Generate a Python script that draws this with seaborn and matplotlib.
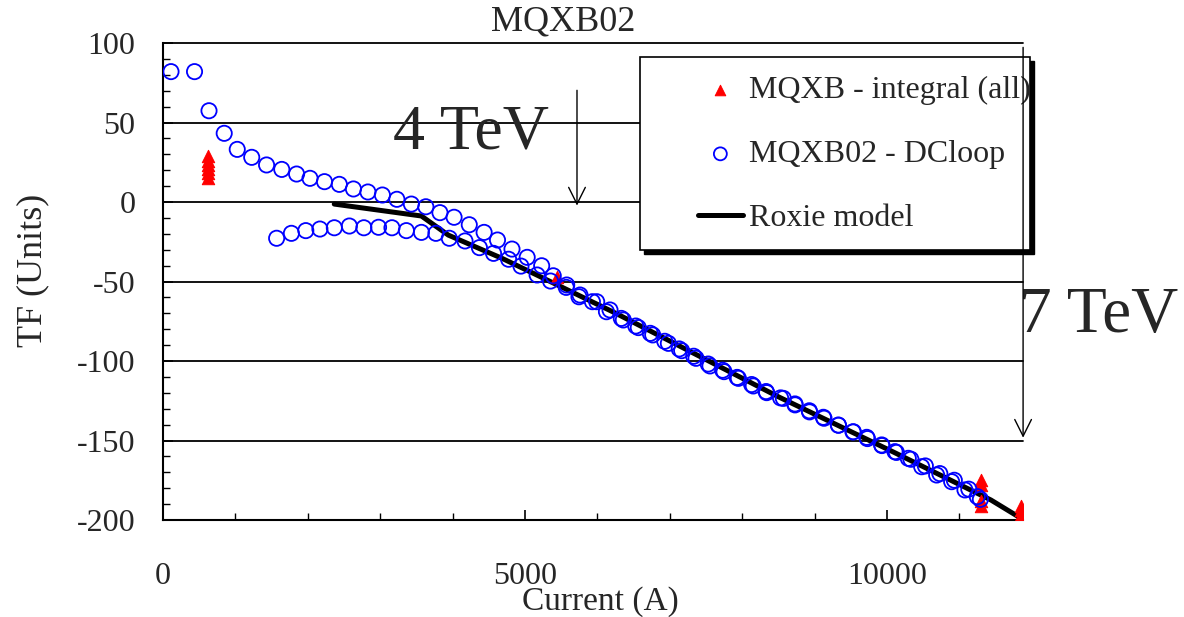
import matplotlib
matplotlib.use("Agg")
import matplotlib.pyplot as plt
import matplotlib.patches as mpatches
import seaborn as sns
import pandas as pd
from matplotlib.ticker import MultipleLocator

# DC loop, ramp up (upper branch)
up_current = [110, 435, 635, 845, 1025, 1225, 1430, 1640, 1845, 2030,
              2230, 2435, 2630, 2830, 3030, 3230, 3430, 3630, 3825, 4020,
              4230, 4435, 4620, 4820, 5030, 5230, 5390, 5576, 5760, 5990,
              6174, 6358, 6565, 6764, 6980, 7164, 7362, 7555, 7749, 7947,
              8153, 8338, 8568, 8729, 8927, 9121, 9328, 9535, 9720, 9927,
              10110, 10294, 10479, 10686, 10893, 11077, 11247]
up_tf = [82, 82, 57.4, 43.2, 33.1, 28.1, 23.3, 20.5, 17.6, 14.9,
         12.8, 11.1, 8.2, 6.3, 4.4, 1.7, -1.3, -3.0, -6.7, -9.6,
         -14.3, -19.1, -23.9, -29.6, -34.8, -40.1, -46.4, -52.2, -58.5, -62.7,
         -67.9, -74.2, -79.0, -83.6, -88.9, -93.5, -98.3, -103.1, -106.7, -110.9,
         -115.7, -119.9, -123.5, -127.0, -131.3, -135.4, -140.3, -144.5, -148.0, -152.8,
         -157.0, -161.2, -166.5, -171.7, -175.9, -181.1, -185.3]

# DC loop, ramp down (lower branch)
down_current = [11290, 11130, 10930, 10730, 10530, 10330, 10130, 9930, 9730, 9530,
                9330, 9130, 8930, 8730, 8530, 8330, 8130, 7930, 7730, 7530,
                7330, 7130, 6930, 6730, 6530, 6330, 6125, 5931, 5745, 5569,
                5352, 5167, 4944, 4773, 4565, 4370, 4171, 3954, 3769, 3569,
                3361, 3162, 2977, 2774, 2574, 2366, 2167, 1972, 1773, 1569]
down_tf = [-187.0, -180.6, -175.0, -170.8, -166.0, -161.8, -157.5, -153.2, -148.8, -144.6,
           -140.4, -136.0, -132.0, -127.6, -123.2, -119.2, -114.8, -110.3, -105.8, -101.9,
           -97.0, -92.4, -87.6, -82.6, -78.0, -73.2, -69.0, -62.7, -59.6, -53.7,
           -49.7, -45.9, -40.3, -36.0, -32.3, -28.7, -24.5, -22.8, -19.7, -19.1,
           -18.0, -16.2, -15.9, -16.2, -15.1, -16.2, -17.0, -18.0, -19.7, -22.8]

# integral measurements, all MQXB magnets
integral_current = [620, 620, 620, 620, 620, 620, 5440,
                    11300, 11300, 11300, 11300, 11850, 11850, 11850]
integral_tf = [29, 26, 23, 21, 18, 15, -47,
               -175, -178, -188, -191, -191, -194, -197]

# Roxie model
roxie_current = [2365, 3569, 3940, 4310, 4681, 5144, 6255, 8500, 10100, 11435, 11854]
roxie_tf = [-1.3, -8.8, -20.8, -28.1, -35.4, -45.5, -70.0, -122.5, -157.5, -187.4, -199.0]

dc = pd.DataFrame({"current": up_current + down_current, "tf": up_tf + down_tf})
integral = pd.DataFrame({"current": integral_current, "tf": integral_tf})
roxie = pd.DataFrame({"current": roxie_current, "tf": roxie_tf})

sns.set_theme(style="white")
plt.rcParams["font.family"] = ["Liberation Serif", "DejaVu Sans"]
plt.rcParams["axes.unicode_minus"] = False

fig = plt.figure(figsize=(11.84, 6.17), dpi=100)
ax = fig.add_axes([0.1377, 0.1572, 0.7264, 0.7731])

sns.lineplot(data=roxie, x="current", y="tf", color="black", linewidth=3.6,
             estimator=None, sort=False, label="Roxie model", ax=ax, zorder=3)
sns.scatterplot(data=integral, x="current", y="tf", marker="^", color="#ff0000",
                edgecolor="#ff0000", s=80, label="MQXB - integral (all)", ax=ax, zorder=4)
sns.scatterplot(data=dc, x="current", y="tf", marker="o", facecolor="none",
                edgecolor="#0000ff", linewidth=1.3, s=120,
                label="MQXB02 - DCloop", ax=ax, zorder=5)

ax.set_xlim(0, 11880)
ax.set_ylim(-200, 100)
ax.xaxis.set_major_locator(MultipleLocator(5000))
ax.xaxis.set_minor_locator(MultipleLocator(1000))
ax.yaxis.set_major_locator(MultipleLocator(50))
ax.yaxis.set_minor_locator(MultipleLocator(10))

for gy in [100, 50, 0, -50, -100, -150]:
    ax.axhline(gy, color="black", linewidth=1.3, zorder=1, clip_on=False)

for side in ["top", "right"]:
    ax.spines[side].set_visible(False)
for side in ["left", "bottom"]:
    ax.spines[side].set_color("black")
    ax.spines[side].set_linewidth(1.5)

ax.tick_params(axis="both", which="both", direction="in", color="black",
               left=True, bottom=True)
ax.tick_params(axis="both", which="major", length=7, width=1.2)
ax.tick_params(axis="both", which="minor", length=5, width=1.0)
ax.tick_params(axis="x", which="major", labelsize=23, pad=30)
ax.tick_params(axis="y", which="major", labelsize=23, pad=20)

ax.set_xlabel("Current (A)", fontsize=24, va="center")
ax.set_ylabel("TF (Units)", fontsize=26)
ax.xaxis.set_label_coords(0.509, -0.172)
ax.yaxis.set_label_coords(-0.132, 0.524)

fig.text(0.4755, 0.964, "MQXB02", fontsize=26, ha="center", va="center")

# energy markers
ax.annotate("", xy=(5718, -4), xytext=(5718, 72),
            arrowprops=dict(arrowstyle="->", color="black", lw=1.0, mutation_scale=30))
ax.text(4250, 43, "4 TeV", fontsize=46, ha="center", va="center")
ax.annotate("", xy=(11880, -150), xytext=(11880, 99),
            arrowprops=dict(arrowstyle="->", color="black", lw=1.0, mutation_scale=30),
            annotation_clip=False, zorder=10)
ax.text(12930, -72, "7 TeV", fontsize=47, ha="center", va="center", clip_on=False)

# legend box with a solid drop shadow
box_x, box_y, box_w, box_h = 640 / 1184, 1 - 250 / 617, 390 / 1184, 193 / 617
ax.add_patch(mpatches.Rectangle((box_x + 4 / 1184, box_y - 4 / 617), box_w, box_h,
                                transform=fig.transFigure, facecolor="black",
                                edgecolor="black", clip_on=False, zorder=6))
ax.add_patch(mpatches.Rectangle((box_x, box_y), box_w, box_h,
                                transform=fig.transFigure, facecolor="white",
                                edgecolor="black", linewidth=1.2, clip_on=False, zorder=7))

handles, labels = ax.get_legend_handles_labels()
order = [labels.index(l) for l in ["MQXB - integral (all)", "MQXB02 - DCloop", "Roxie model"]]
leg = ax.legend([handles[i] for i in order], [labels[i] for i in order],
                loc="upper left", bbox_to_anchor=(698 / 1184, 1 - 76 / 617),
                bbox_transform=fig.transFigure, fontsize=23, frameon=False,
                labelspacing=1.08, handlelength=1.4, handletextpad=0.2,
                borderpad=0, borderaxespad=0, markerscale=0.85)
leg.set_zorder(8)

fig.savefig("out.png", dpi=100)
